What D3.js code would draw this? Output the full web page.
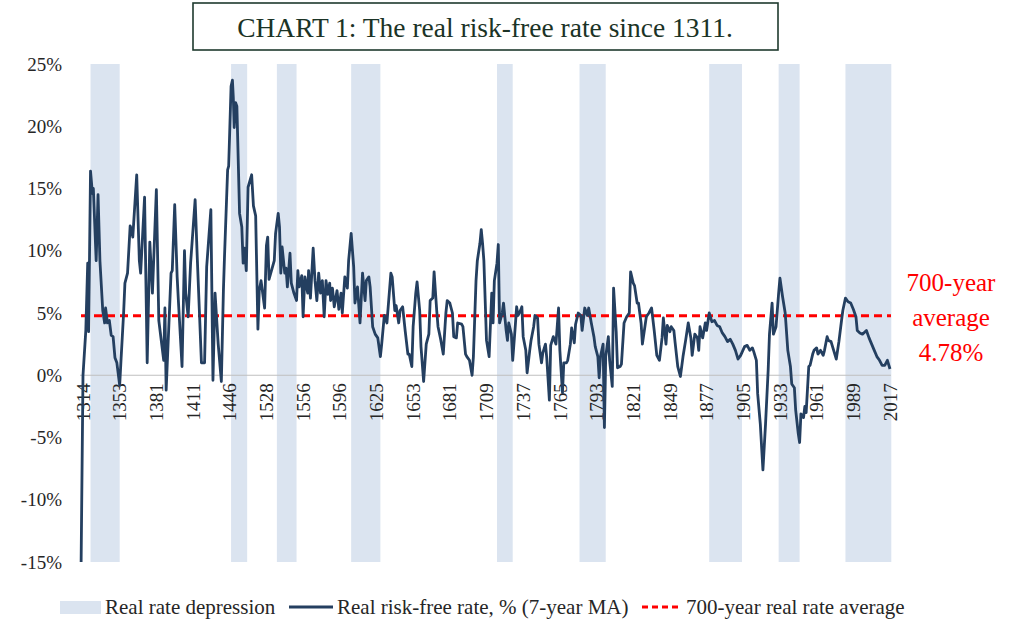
<!DOCTYPE html>
<html>
<head>
<meta charset="utf-8">
<script src="https://cdn.jsdelivr.net/npm/d3@7"></script>
<style>
  body { margin: 0; background: #fff; }
  svg { display: block; font-family: "Liberation Serif", "DejaVu Serif", serif; }
</style>
</head>
<body>
<div id="chart"></div>
<script>
// Category labels shown on the x axis (the axis is a category axis, so spacing is even)
const tickYears = [1314, 1353, 1381, 1411, 1446, 1528, 1556, 1596, 1625, 1653, 1681, 1709,
    1737, 1765, 1793, 1821, 1849, 1877, 1905, 1933, 1961, 1989, 2017];

const yTicks = [-15, -10, -5, 0, 5, 10, 15, 20, 25];

// Periods of real rate depression (start year, end year)
const depressions = [
    [1322, 1353], [1449, 1485], [1536, 1551], [1605, 1628], [1717, 1729],
    [1780, 1800], [1879, 1904], [1932, 1948], [1983, 2018]
];

const average = 4.78;

// Real risk-free rate, % (7-year MA): [year, value]
const realRate = [
    [1312, -15], [1314, 0.0], [1317, 3.6], [1319, 9.0], [1320, 3.5], [1322, 16.4], [1324, 14.6],
    [1325, 15.0], [1328, 9.2], [1330, 14.5], [1332, 9.2], [1335, 5.2], [1337, 4.2], [1338, 5.4],
    [1340, 4.2], [1342, 4.4], [1344, 3.2], [1346, 3.1], [1348, 1.4], [1350, 1.0], [1353, -0.8],
    [1354, 1.2], [1356, 5.0], [1357, 7.4], [1359, 8.2], [1361, 12.0], [1362, 11.7], [1363, 11.1],
    [1366, 16.1], [1368, 9.2], [1369, 8.2], [1372, 14.3], [1374, 1.0], [1376, 10.7], [1378, 6.6],
    [1381, 14.9], [1383, 4.4], [1387, 1.2], [1388, 5.4], [1389, -1.2], [1393, 8.2], [1394, 8.4],
    [1396, 13.7], [1398, 7.9], [1399, 6.0], [1402, 0.7], [1404, 10.0], [1405, 6.6], [1407, 4.7],
    [1409, 9.0], [1413, 14.1], [1415, 9.5], [1419, 1.0], [1422, 1.0], [1424, 8.7], [1428, 13.3],
    [1430, -0.4], [1432, 6.6], [1435, 2.5], [1438, -0.5], [1440, 6.9], [1441, 9.5], [1444, 16.5],
    [1445, 16.8], [1449, 23.2], [1452, 23.7], [1454, 22.3], [1456, 19.9], [1459, 21.9], [1462, 21.6],
    [1468, 13.0], [1473, 11.9], [1476, 9.0], [1479, 10.2], [1483, 8.4], [1487, 15.1], [1495, 16.1],
    [1499, 13.6], [1504, 12.8], [1509, 3.7], [1512, 6.8], [1516, 7.6], [1524, 5.4], [1528, 10.4],
    [1529, 11.1], [1530, 7.7], [1534, 9.2], [1535, 11.4], [1537, 13.0], [1538, 11.9], [1539, 8.2],
    [1540, 10.3], [1542, 8.2], [1543, 8.6], [1544, 7.1], [1546, 9.8], [1547, 7.4], [1549, 6.6],
    [1551, 6.0], [1552, 8.4], [1553, 7.1], [1555, 8.0], [1556, 4.7], [1558, 7.9], [1561, 6.6],
    [1562, 8.4], [1564, 6.2], [1567, 10.2], [1569, 7.6], [1571, 6.0], [1573, 8.2], [1575, 6.6],
    [1577, 7.6], [1579, 4.7], [1581, 7.6], [1583, 6.5], [1585, 7.4], [1586, 6.0], [1588, 7.0],
    [1590, 5.5], [1593, 6.8], [1595, 5.3], [1597, 6.6], [1598, 5.0], [1600, 7.9], [1602, 7.0],
    [1603, 9.2], [1605, 11.4], [1607, 8.7], [1608, 5.8], [1610, 7.1], [1612, 4.2], [1614, 8.2],
    [1616, 6.0], [1617, 7.6], [1619, 7.9], [1620, 7.1], [1622, 3.9], [1624, 3.3], [1626, 3.0],
    [1628, 1.5], [1629, 2.5], [1631, 4.8], [1633, 4.2], [1636, 8.2], [1637, 7.9], [1639, 5.2],
    [1640, 5.6], [1642, 4.2], [1643, 5.2], [1645, 5.5], [1647, 3.5], [1649, 1.7], [1650, 1.7],
    [1652, 0.7], [1653, 3.9], [1655, 6.6], [1656, 7.5], [1658, 5.2], [1659, 2.3], [1661, -0.5],
    [1663, 2.5], [1665, 3.3], [1666, 6.0], [1668, 6.2], [1669, 8.3], [1671, 5.2], [1672, 3.9],
    [1674, 2.9], [1676, 1.7], [1678, 5.0], [1679, 6.0], [1681, 5.8], [1683, 5.0], [1684, 3.1],
    [1686, 3.0], [1687, 4.2], [1690, 4.1], [1691, 3.9], [1693, 1.7], [1694, 1.5], [1696, 1.2],
    [1698, 0.0], [1699, 1.5], [1701, 7.6], [1702, 9.2], [1704, 10.6], [1705, 11.7], [1706, 10.6],
    [1707, 9.2], [1709, 2.8], [1711, 1.5], [1713, 6.6], [1714, 4.2], [1715, 7.6], [1717, 9.0],
    [1718, 10.5], [1719, 4.2], [1721, 5.0], [1722, 5.8], [1724, 3.6], [1725, 2.8], [1726, 4.2],
    [1728, 3.3], [1729, 1.2], [1731, 4.0], [1732, 5.5], [1733, 4.8], [1735, 5.2], [1736, 5.5],
    [1737, 3.1], [1739, 2.0], [1740, 0.2], [1742, 2.0], [1743, 2.8], [1745, 3.9], [1746, 4.8],
    [1748, 4.6], [1749, 2.5], [1751, 1.0], [1752, 1.8], [1754, 2.5], [1755, 1.4], [1757, -2.0],
    [1758, 2.4], [1760, 3.1], [1762, 2.5], [1764, 5.4], [1765, 2.0], [1767, -1.4], [1768, 1.0],
    [1770, 1.0], [1771, 1.2], [1773, 2.5], [1774, 3.8], [1776, 2.6], [1777, 4.1], [1779, 5.0],
    [1781, 4.8], [1782, 3.6], [1784, 5.4], [1786, 4.8], [1787, 5.4], [1789, 4.2], [1791, 3.1],
    [1792, 2.3], [1794, 1.5], [1795, -0.2], [1796, 1.5], [1798, 2.5], [1799, -4.2], [1800, 1.5],
    [1802, 3.1], [1803, 1.2], [1805, -0.9], [1806, 7.0], [1808, 3.5], [1809, 0.6], [1811, 0.7],
    [1812, 0.9], [1814, 4.2], [1816, 4.7], [1818, 5.0], [1819, 8.3], [1821, 7.4], [1822, 7.2],
    [1824, 5.8], [1825, 5.8], [1827, 4.2], [1828, 2.5], [1831, 4.7], [1833, 5.0], [1835, 5.4],
    [1837, 3.6], [1839, 1.6], [1841, 1.2], [1843, 3.0], [1844, 4.6], [1846, 2.5], [1847, 4.0],
    [1849, 3.5], [1850, 3.9], [1852, 3.6], [1853, 2.6], [1855, 0.7], [1857, -0.1], [1859, 1.5],
    [1861, 2.8], [1863, 4.2], [1865, 3.0], [1866, 1.6], [1868, 3.3], [1870, 3.0], [1871, 2.0],
    [1872, 3.9], [1874, 3.0], [1876, 4.2], [1877, 3.6], [1879, 5.0], [1881, 4.3], [1883, 4.4],
    [1885, 4.0], [1887, 3.9], [1889, 3.4], [1891, 3.1], [1893, 2.7], [1895, 2.9], [1897, 2.5],
    [1899, 2.0], [1901, 1.3], [1903, 1.6], [1906, 2.3], [1908, 2.4], [1910, 2.0], [1912, 2.2],
    [1913, 1.9], [1915, 1.2], [1916, -1.5], [1918, -3.9], [1920, -7.6], [1922, -3.9], [1924, 0.4],
    [1925, 3.3], [1927, 5.8], [1928, 3.3], [1930, 3.9], [1932, 6.6], [1933, 7.8], [1935, 6.3],
    [1937, 5.0], [1939, 2.0], [1941, 0.7], [1942, -0.7], [1944, -1.0], [1945, -2.8], [1947, -4.7],
    [1948, -5.4], [1949, -3.1], [1951, -3.4], [1952, -2.5], [1953, -3.0], [1955, 0.7], [1956, 0.8],
    [1958, 1.7], [1959, 2.0], [1961, 2.2], [1962, 1.7], [1964, 2.0], [1966, 1.6], [1967, 2.0],
    [1969, 3.1], [1970, 2.8], [1972, 2.7], [1974, 2.0], [1976, 1.3], [1978, 2.7], [1980, 4.4],
    [1981, 5.2], [1983, 6.2], [1985, 5.9], [1987, 5.8], [1989, 5.3], [1991, 4.7], [1992, 3.6],
    [1994, 3.4], [1996, 3.3], [1999, 3.6], [2001, 3.0], [2003, 2.5], [2005, 2.0], [2007, 1.5],
    [2009, 1.2], [2011, 0.8], [2013, 0.8], [2015, 1.2], [2017, 0.5]
];

const width = 1024;
const height = 635;
const plotLeft = 83, plotRight = 890;   // first / last category
const plotTop = 64, plotBottom = 562;

const svg = d3.select("#chart")
    .append("svg")
    .attr("width", width)
    .attr("height", height);

// Scales: the category axis spaces the labelled years evenly, so use a piecewise scale
const step = (plotRight - plotLeft) / (tickYears.length - 1);
const x = d3.scaleLinear()
    .domain(tickYears)
    .range(tickYears.map((d, i) => plotLeft + i * step));

const y = d3.scaleLinear()
    .domain([-15, 25])
    .range([plotBottom, plotTop]);

// Shaded depression bands
svg.append("g")
    .selectAll("rect")
    .data(depressions)
    .join("rect")
    .attr("x", d => x(d[0]))
    .attr("y", y(25))
    .attr("width", d => x(d[1]) - x(d[0]))
    .attr("height", y(-15) - y(25))
    .attr("fill", "#dbe4f0");

// Zero line
svg.append("line")
    .attr("x1", 80).attr("x2", 891)
    .attr("y1", y(0)).attr("y2", y(0))
    .attr("stroke", "#bfbfbf")
    .attr("stroke-width", 1.2);

// Y axis labels
svg.append("g")
    .selectAll("text")
    .data(yTicks)
    .join("text")
    .attr("x", 62)
    .attr("y", d => y(d))
    .attr("dy", "0.35em")
    .attr("text-anchor", "end")
    .attr("font-size", 19)
    .attr("fill", "#262626")
    .text(d => d + "%");

// X axis labels (rotated)
svg.append("g")
    .selectAll("text")
    .data(tickYears)
    .join("text")
    .attr("transform", d => `translate(${x(d)},${y(0) + 8}) rotate(-90)`)
    .attr("dy", "0.35em")
    .attr("text-anchor", "end")
    .attr("font-size", 19)
    .attr("fill", "#262626")
    .text(d => d);

// Average line
svg.append("line")
    .attr("x1", 81).attr("x2", 891)
    .attr("y1", y(average)).attr("y2", y(average))
    .attr("stroke", "#ff0000")
    .attr("stroke-width", 3)
    .attr("stroke-dasharray", "8,5");

// Real rate line
const line = d3.line()
    .x(d => x(d[0]))
    .y(d => y(d[1]));

svg.append("path")
    .datum(realRate)
    .attr("d", line)
    .attr("fill", "none")
    .attr("stroke", "#243f60")
    .attr("stroke-width", 2.8)
    .attr("stroke-linejoin", "round");

// Average annotation
svg.append("g")
    .selectAll("text")
    .data(["700-year", "average", average + "%"])
    .join("text")
    .attr("x", 951)
    .attr("y", (d, i) => 291 + i * 35)
    .attr("text-anchor", "middle")
    .attr("font-size", 25)
    .attr("fill", "#ff0000")
    .text(d => d);

// Title box
svg.append("rect")
    .attr("x", 193).attr("y", 3)
    .attr("width", 585).attr("height", 47)
    .attr("fill", "#fff")
    .attr("stroke", "#1e3a2e")
    .attr("stroke-width", 1.6);

svg.append("text")
    .attr("x", 485).attr("y", 37)
    .attr("text-anchor", "middle")
    .attr("font-size", 27.5)
    .attr("fill", "#1b3326")
    .text("CHART 1: The real risk-free rate since 1311.");

// Legend
const legend = svg.append("g").attr("font-size", 21).attr("fill", "#262626");

legend.append("rect")
    .attr("x", 60).attr("y", 601).attr("width", 41).attr("height", 13)
    .attr("fill", "#dbe4f0");
legend.append("text").attr("x", 105).attr("y", 614).text("Real rate depression");

legend.append("line")
    .attr("x1", 289).attr("x2", 333).attr("y1", 607).attr("y2", 607)
    .attr("stroke", "#243f60").attr("stroke-width", 2.8);
legend.append("text").attr("x", 337).attr("y", 614).text("Real risk-free rate, % (7-year MA)");

legend.append("line")
    .attr("x1", 642).attr("x2", 682).attr("y1", 607).attr("y2", 607)
    .attr("stroke", "#ff0000").attr("stroke-width", 3)
    .attr("stroke-dasharray", "6,4");
legend.append("text").attr("x", 686).attr("y", 614).text("700-year real rate average");
</script>
</body>
</html>
